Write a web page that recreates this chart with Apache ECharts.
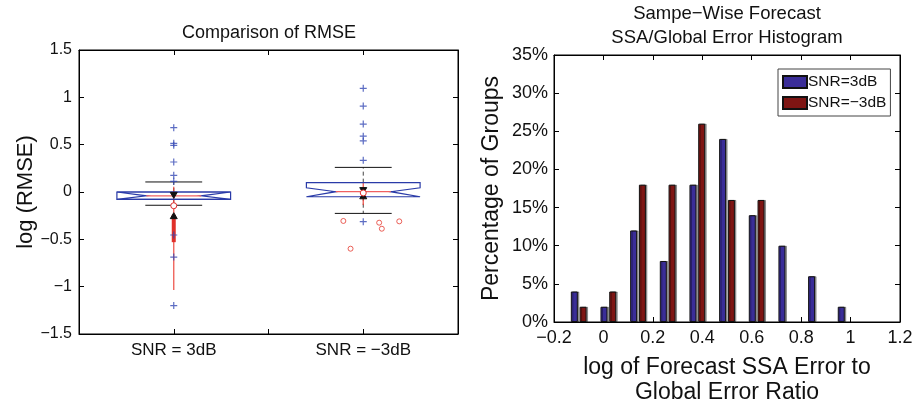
<!DOCTYPE html>
<html><head><meta charset="utf-8">
<script src="https://cdn.jsdelivr.net/npm/echarts@6/dist/echarts.min.js"></script>
<style>html,body{margin:0;padding:0;background:#fff}#c{width:917px;height:410px}</style>
</head><body><div id="c"></div>
<script>
// ---- Left: box plot data ----
const categories = ['SNR = 3dB', 'SNR = \u22123dB'];
const catPos = [1, 2];
const boxQ1 = [-0.077, -0.05];
const boxMed = [-0.04, 0.003];
const boxQ3 = [0.0, 0.099];
const notchLo = [-0.077, -0.05];
const notchHi = [0.0, 0.045];
const whiskLo = [-0.14, -0.226];
const whiskHi = [0.106, 0.26];
const outliers3dB = [0.679, 0.514, 0.493, 0.317, 0.176, 0.113, -0.454, -0.687, -1.20];
const outliersM3dB = [1.095, 0.908, 0.718, 0.59, 0.54, 0.335, -0.313];
const redWhiskLo = [-1.035, -0.137];
const redWhiskHi = [0.056, 0.095];
const redBoxLo = [-0.53, -0.06];
const redBoxHi = [-0.24, 0.02];
const redMedian = [-0.145, -0.01];
const triDown = [-0.035, 0.015];
const triUp = [-0.25, -0.04];
const redOutM3dB = [-0.306, -0.324, -0.388, -0.31, -0.599];
const redOutM3dBX = [1.895, 2.084, 2.098, 2.19, 1.933];

// ---- Right: histogram data ----
const binCenters = [-0.1, 0.02, 0.14, 0.26, 0.38, 0.5, 0.62, 0.74, 0.86, 0.98];
const pct3dB = [4, 2, 12, 8, 18, 24, 14, 10, 6, 2];
const pctM3dB = [2, 4, 18, 18, 26, 16, 16, 0, 0, 0];

const FONT = "'Liberation Sans', Arial, Helvetica, sans-serif";
const minus = v => String(v).replace('-', '\u2212');

const boxData = catPos.map((p, i) => [p, boxQ1[i], boxMed[i], boxQ3[i], notchLo[i], notchHi[i], whiskLo[i], whiskHi[i],
  redWhiskLo[i], redWhiskHi[i], redBoxLo[i], redBoxHi[i], redMedian[i], triDown[i], triUp[i]]);

function renderBox(params, api) {
  const x = api.value(0);
  const P = v => api.coord([x, v]);
  const cx = P(0)[0];
  const half = api.size([0.3, 0])[0];
  const capHalf = api.size([0.15, 0])[0];
  const nHalf = api.size([0.145, 0])[0];
  const yQ1 = P(api.value(1))[1], yMed = P(api.value(2))[1], yQ3 = P(api.value(3))[1];
  const yNLo = P(api.value(4))[1], yNHi = P(api.value(5))[1];
  const yWLo = P(api.value(6))[1], yWHi = P(api.value(7))[1];
  const ch = [];
  const line = (x1, y1, x2, y2, st) => ({type: 'line', shape: {x1, y1, x2, y2}, style: Object.assign({stroke: '#000', lineWidth: 1}, st)});
  // whiskers
  ch.push(line(cx, yQ3, cx, yWHi, {lineDash: [4, 3], stroke: '#444'}));
  ch.push(line(cx, yQ1, cx, yWLo, {lineDash: [4, 3], stroke: '#444'}));
  ch.push(line(cx - capHalf, yWHi, cx + capHalf, yWHi, {stroke: '#111'}));
  ch.push(line(cx - capHalf, yWLo, cx + capHalf, yWLo, {stroke: '#111'}));
  // red compact overlay
  const yRWLo = P(api.value(8))[1], yRWHi = P(api.value(9))[1];
  const yRBLo = P(api.value(10))[1], yRBHi = P(api.value(11))[1];
  ch.push(line(cx, yRWHi, cx, yRWLo, {stroke: 'rgba(235,60,50,0.85)', lineWidth: 1.3}));
  ch.push(line(cx, yRBHi, cx, yRBLo, {stroke: '#e0302a', lineWidth: 4}));
  // notched box
  ch.push({type: 'polygon', shape: {points: [
    [cx - half, yQ3], [cx + half, yQ3], [cx + half, yNHi], [cx + nHalf, yMed], [cx + half, yNLo],
    [cx + half, yQ1], [cx - half, yQ1], [cx - half, yNLo], [cx - nHalf, yMed], [cx - half, yNHi]]},
    style: {fill: 'none', stroke: '#2a3ba8', lineWidth: 1.2}});
  if (api.value(5) >= api.value(3) && api.value(4) <= api.value(1)) {
    ch.push({type: 'rect', shape: {x: cx - half, y: yQ3, width: 2 * half, height: yQ1 - yQ3},
      style: {fill: 'none', stroke: '#2a3ba8', lineWidth: 1.2}});
  }
  ch.push(line(cx - nHalf, yMed, cx + nHalf, yMed, {stroke: '#f06060', lineWidth: 1.2}));
  // triangles (compact notch markers)
  const yTD = P(api.value(13))[1], yTU = P(api.value(14))[1];
  ch.push({type: 'polygon', shape: {points: [[cx - 3.5, yTD - 3], [cx + 3.5, yTD - 3], [cx, yTD + 3]]}, style: {fill: '#111', stroke: '#111'}});
  ch.push({type: 'polygon', shape: {points: [[cx - 3.5, yTU + 3], [cx + 3.5, yTU + 3], [cx, yTU - 3]]}, style: {fill: '#111', stroke: '#111'}});
  const yRM = P(api.value(12))[1];
  ch.push({type: 'circle', shape: {cx: cx, cy: yRM, r: 3}, style: {fill: '#fff', stroke: '#e03030', lineWidth: 1}});
  return {type: 'group', children: ch};
}

const plusPath = 'path://M0,5L10,5M5,0L5,10';
const chart = echarts.init(document.getElementById('c'), null, {renderer: 'canvas'});
const axisCommon = {
  axisLine: {show: true, onZero: false, lineStyle: {color: '#000', width: 1}},
  axisTick: {show: true, inside: true, length: 5, lineStyle: {color: '#000'}},
  splitLine: {show: false}
};
const option = {
  animation: false,
  textStyle: {fontFamily: FONT},
  title: [
    {text: 'Comparison of RMSE', left: 269, top: 24, textAlign: 'center', padding: 0,
      textStyle: {fontSize: 18, fontWeight: 'normal', color: '#111', fontFamily: FONT}},
    {text: 'Sampe\u2212Wise Forecast\nSSA/Global Error Histogram', left: 727, top: 2, textAlign: 'center', padding: 0,
      textStyle: {fontSize: 18.5, fontWeight: 'normal', color: '#111', fontFamily: FONT, lineHeight: 24}}
  ],
  legend: {
    left: 778, top: 69, orient: 'vertical', itemWidth: 24, itemHeight: 12, itemGap: 5,
    padding: [5, 4, 5, 4], borderColor: '#444', borderWidth: 1, backgroundColor: '#fff',
    icon: 'rect', data: ['SNR=3dB', 'SNR=\u22123dB'],
    textStyle: {fontSize: 15.5, color: '#111', fontFamily: FONT, padding: [0, 0, 0, -4]}
  },
  grid: [
    {left: 79, right: 459, top: 50, bottom: 76, show: true, borderColor: '#000', borderWidth: 1},
    {left: 554, right: 17, top: 55, bottom: 84, show: true, borderColor: '#000', borderWidth: 1}
  ],
  xAxis: [
    Object.assign({}, axisCommon, {gridIndex: 0, type: 'value', min: 0.5, max: 2.5, interval: 0.5,
      axisLabel: {fontSize: 17, color: '#111', margin: 8, fontFamily: FONT,
        formatter: v => { const k = catPos.indexOf(v); return k >= 0 ? categories[k] : ''; }}}),
    Object.assign({}, axisCommon, {gridIndex: 0, type: 'value', position: 'top', min: 0.5, max: 2.5, interval: 0.5,
      axisLabel: {show: false}}),
    Object.assign({}, axisCommon, {gridIndex: 1, type: 'value', min: -0.2, max: 1.2, interval: 0.2,
      name: 'log of Forecast SSA Error to\nGlobal Error Ratio', nameLocation: 'middle', nameGap: 33,
      nameTextStyle: {fontSize: 23, color: '#111', lineHeight: 25, fontFamily: FONT, verticalAlign: 'top'},
      axisLabel: {fontSize: 18, color: '#111', margin: 7, fontFamily: FONT,
        formatter: v => minus(Math.round(v * 10) / 10)}}),
    Object.assign({}, axisCommon, {gridIndex: 1, type: 'value', position: 'top', min: -0.2, max: 1.2, interval: 0.2,
      axisLabel: {show: false}})
  ],
  yAxis: [
    Object.assign({}, axisCommon, {gridIndex: 0, type: 'value', min: -1.5, max: 1.5, interval: 0.5,
      name: 'log (RMSE)', nameLocation: 'middle', nameGap: 37,
      nameTextStyle: {fontSize: 22, color: '#111', fontFamily: FONT},
      axisLabel: {fontSize: 16, color: '#111', margin: 7, fontFamily: FONT, formatter: v => minus(v)}}),
    Object.assign({}, axisCommon, {gridIndex: 0, type: 'value', position: 'right', min: -1.5, max: 1.5, interval: 0.5,
      axisLabel: {show: false}}),
    Object.assign({}, axisCommon, {gridIndex: 1, type: 'value', min: 0, max: 35, interval: 5,
      name: 'Percentage of Groups', nameLocation: 'middle', nameGap: 51,
      nameTextStyle: {fontSize: 23, color: '#111', fontFamily: FONT},
      axisLabel: {fontSize: 18, color: '#111', margin: 6, fontFamily: FONT, formatter: v => v + '%'}}),
    Object.assign({}, axisCommon, {gridIndex: 1, type: 'value', position: 'right', min: 0, max: 35, interval: 5,
      axisLabel: {show: false}})
  ],
  series: [
    {type: 'custom', xAxisIndex: 0, yAxisIndex: 0, renderItem: renderBox, data: boxData, z: 3},
    {type: 'scatter', xAxisIndex: 0, yAxisIndex: 0, symbol: plusPath, symbolSize: 7,
      itemStyle: {color: 'none', borderColor: '#3448b4', borderWidth: 1.2},
      data: outliers3dB.map(v => [catPos[0], v]).concat(outliersM3dB.map(v => [catPos[1], v])), z: 4},
    {type: 'scatter', xAxisIndex: 0, yAxisIndex: 0, symbol: 'circle', symbolSize: 5,
      itemStyle: {color: '#fff', borderColor: '#e53a30', borderWidth: 1},
      data: redOutM3dB.map((v, i) => [redOutM3dBX[i], v]), z: 4},
    {name: 'SNR=3dB', type: 'bar', xAxisIndex: 2, yAxisIndex: 2, barWidth: 7, barGap: '25%',
      itemStyle: {color: '#3a2d98', borderColor: '#111', borderWidth: 1, shadowColor: 'rgba(0,0,0,0.35)', shadowOffsetX: 1.5, shadowBlur: 0},
      data: binCenters.map((c, i) => pct3dB[i] > 0 ? [c, pct3dB[i]] : [c, null])},
    {name: 'SNR=\u22123dB', type: 'bar', xAxisIndex: 2, yAxisIndex: 2, barWidth: 7, barGap: '25%',
      itemStyle: {color: '#7e1513', borderColor: '#111', borderWidth: 1, shadowColor: 'rgba(0,0,0,0.35)', shadowOffsetX: 1.5, shadowBlur: 0},
      data: binCenters.map((c, i) => pctM3dB[i] > 0 ? [c, pctM3dB[i]] : [c, null])}
  ]
};
chart.setOption(option);
</script></body></html>
